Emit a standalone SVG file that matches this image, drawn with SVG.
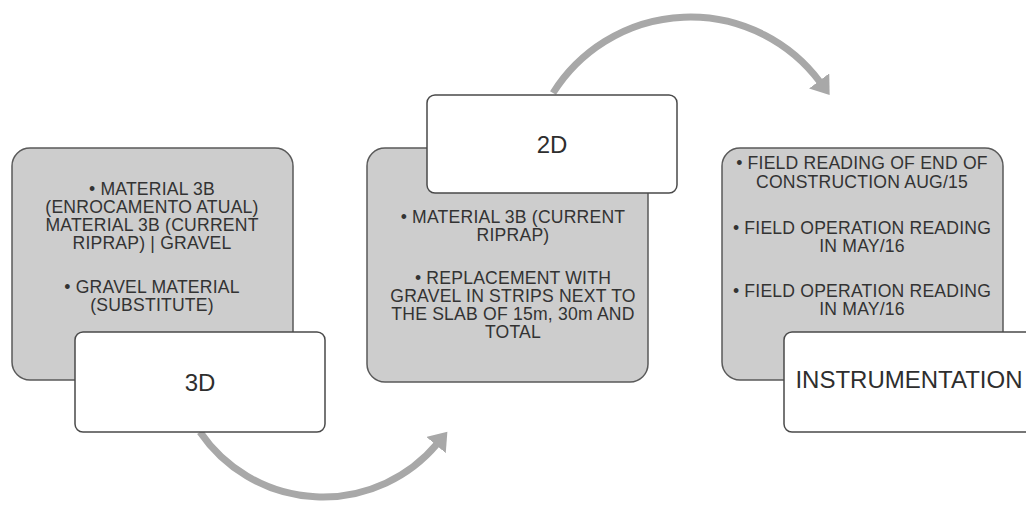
<svg xmlns="http://www.w3.org/2000/svg" width="1026" height="506" viewBox="0 0 1026 506">
<style>
.bg{fill:#ffffff}
.gray{fill:#cdcdcd;stroke:#5a5a5a;stroke-width:1.5}
.white{fill:#ffffff;stroke:#4a4a4a;stroke-width:1.5}
.arc{fill:none;stroke:#a8a8a8;stroke-width:7}
.b{font-family:"Liberation Sans",Arial,sans-serif;font-size:17.6px;letter-spacing:0.2px;fill:#333333;text-anchor:middle}
.lab{font-family:"Liberation Sans",Arial,sans-serif;font-size:24px;fill:#2e2e2e;text-anchor:middle}
</style>
<defs>
<marker id="head" markerWidth="3" markerHeight="3.6" refX="0.2" refY="1.8" orient="auto" markerUnits="strokeWidth">
<path d="M0,0 L2.5,1.8 L0,3.6 Z" fill="#a8a8a8"/>
</marker>
</defs>
<rect class="bg" x="0" y="0" width="1026" height="506"/>
<g id="connectors">
<path class="arc" d="M553,93 A162,162 0 0 1 820,82" marker-end="url(#head)"/>
<path class="arc" d="M200,432 A149,149 0 0 0 437,444" marker-end="url(#head)"/>
</g>
<g id="node-3d-details">
<rect class="gray" x="12" y="148" width="281" height="232" rx="18"/>
<text class="b"><tspan x="152" y="195">• MATERIAL 3B</tspan><tspan x="152" y="213">(ENROCAMENTO ATUAL)</tspan><tspan x="152" y="231">MATERIAL 3B (CURRENT</tspan><tspan x="152" y="249">RIPRAP) | GRAVEL</tspan><tspan x="152" y="293">• GRAVEL MATERIAL</tspan><tspan x="152" y="311">(SUBSTITUTE)</tspan></text>
</g>
<g id="node-3d">
<rect class="white" x="75" y="332" width="250" height="100" rx="8"/>
<text class="lab" x="200" y="391">3D</text>
</g>
<g id="node-2d-details">
<rect class="gray" x="367" y="148" width="281" height="234" rx="18"/>
<text class="b"><tspan x="513" y="223">• MATERIAL 3B (CURRENT</tspan><tspan x="513" y="241">RIPRAP)</tspan><tspan x="513" y="284">• REPLACEMENT WITH</tspan><tspan x="513" y="302">GRAVEL IN STRIPS NEXT TO</tspan><tspan x="513" y="320">THE SLAB OF 15m, 30m AND</tspan><tspan x="513" y="338">TOTAL</tspan></text>
</g>
<g id="node-2d">
<rect class="white" x="427" y="95" width="250" height="98" rx="8"/>
<text class="lab" x="552" y="153">2D</text>
</g>
<g id="node-instr-details">
<rect class="gray" x="722" y="148" width="281" height="232" rx="18"/>
<text class="b"><tspan x="862" y="169">• FIELD READING OF END OF</tspan><tspan x="862" y="188">CONSTRUCTION AUG/15</tspan><tspan x="862" y="234">• FIELD OPERATION READING</tspan><tspan x="862" y="252">IN MAY/16</tspan><tspan x="862" y="297">• FIELD OPERATION READING</tspan><tspan x="862" y="315">IN MAY/16</tspan></text>
</g>
<g id="node-instrumentation">
<rect class="white" x="784" y="332" width="250" height="100" rx="8"/>
<text class="lab" x="909" y="388">INSTRUMENTATION</text>
</g>
</svg>
